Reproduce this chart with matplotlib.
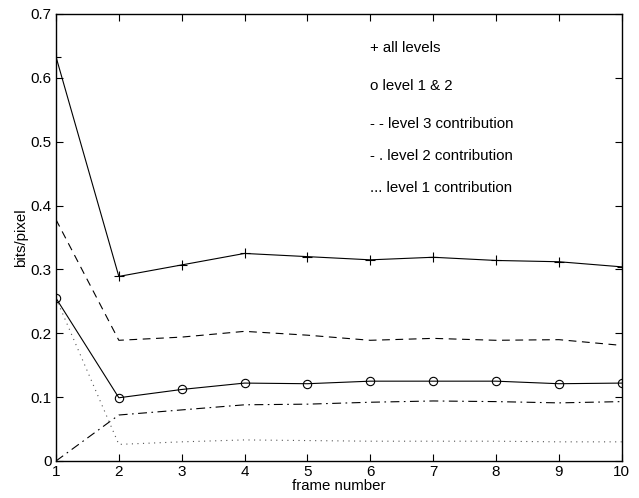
import matplotlib
matplotlib.use("Agg")
import matplotlib.pyplot as plt

frames = [1, 2, 3, 4, 5, 6, 7, 8, 9, 10]
all_levels = [0.633, 0.289, 0.307, 0.325, 0.320, 0.315, 0.319, 0.314, 0.312, 0.304]
level12 = [0.255, 0.099, 0.112, 0.122, 0.121, 0.125, 0.125, 0.125, 0.121, 0.122]
level3 = [0.378, 0.189, 0.194, 0.203, 0.197, 0.189, 0.192, 0.189, 0.190, 0.181]
level2 = [0.0, 0.072, 0.080, 0.088, 0.089, 0.092, 0.094, 0.093, 0.091, 0.093]
level1 = [0.255, 0.026, 0.030, 0.033, 0.032, 0.031, 0.031, 0.031, 0.030, 0.030]

legend_texts = ["+ all levels", "o level 1 & 2", "- - level 3 contribution",
                "- . level 2 contribution", "... level 1 contribution"]
legend_y = [0.646, 0.587, 0.527, 0.477, 0.428]

plt.rcParams['font.family'] = ['Liberation Sans', 'DejaVu Sans']

fig = plt.figure(figsize=(6.39, 4.98), dpi=100)
ax = fig.add_axes([0.0876, 0.0743, 0.8854, 0.8977])

lw = 0.8
ax.plot(frames, all_levels, color='black', lw=lw, marker='+', ms=7, mew=0.8)
ax.plot(frames, level12, color='black', lw=lw, marker='o', ms=6, mfc='none', mew=0.8)
ax.plot(frames, level3, color='black', lw=lw, linestyle=(0, (7, 5)))
ax.plot(frames, level2, color='black', lw=lw, linestyle=(0, (8, 4, 1.5, 4)))
ax.plot(frames, level1, color='#555555', lw=lw, linestyle=(0, (1, 4)))

for t, y in zip(legend_texts, legend_y):
    ax.text(6.0, y, t, fontsize=10.8, va='center', ha='left')

ax.set_xlim(1, 10)
ax.set_ylim(0, 0.7)
ax.set_xticks(frames)
ax.set_yticks([0, 0.1, 0.2, 0.3, 0.4, 0.5, 0.6, 0.7])
ax.set_yticklabels(['0', '0.1', '0.2', '0.3', '0.4', '0.5', '0.6', '0.7'])
ax.tick_params(direction='in', top=True, right=True, labelsize=11, length=5, pad=3)
for s in ax.spines.values():
    s.set_linewidth(1.0)
ax.set_xlabel('frame number', fontsize=10.8, labelpad=0)
ax.set_ylabel('bits/pixel', fontsize=10.8, labelpad=2)

fig.savefig('out.png', dpi=100)
